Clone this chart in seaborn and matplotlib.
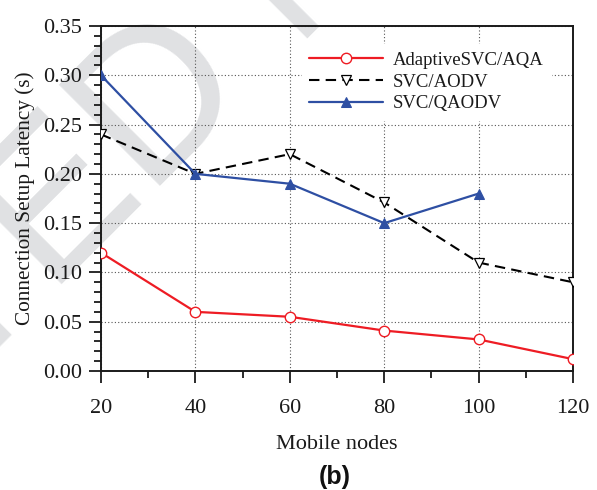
import matplotlib
matplotlib.use("Agg")
import matplotlib.pyplot as plt
import seaborn as sns
import pandas as pd
from matplotlib.ticker import MultipleLocator

# Connection setup latency (s) versus number of mobile nodes
nodes = [20, 40, 60, 80, 100, 120]
adaptive_aqa = [0.120, 0.060, 0.055, 0.041, 0.032, 0.012]
svc_aodv = [0.240, 0.200, 0.220, 0.171, 0.110, 0.090]
svc_qaodv_nodes = [20, 40, 60, 80, 100]
svc_qaodv = [0.300, 0.200, 0.190, 0.150, 0.180]

x_ticks = [20, 40, 60, 80, 100, 120]
y_ticks = [0.00, 0.05, 0.10, 0.15, 0.20, 0.25, 0.30, 0.35]

sns.set_theme(style="white")
plt.rcParams["font.family"] = ["Liberation Serif", "DejaVu Serif"]

fig = plt.figure(figsize=(5.97, 4.90), dpi=100)
fig.patch.set_facecolor("white")

# faint diagonal page watermark, behind everything else
fig.text(-0.9176, -0.823, "ACCEPTED MANUSCRIPT", fontsize=150,
         color="#e0e1e3", family="Liberation Sans", rotation=45,
         rotation_mode="anchor", ha="left", va="baseline", zorder=-10)

ax = fig.add_axes([0.1692, 0.2429, 0.7906, 0.7040])
ax.set_facecolor("none")

df_a = pd.DataFrame({"nodes": nodes, "lat": adaptive_aqa})
df_b = pd.DataFrame({"nodes": nodes, "lat": svc_aodv})
df_c = pd.DataFrame({"nodes": svc_qaodv_nodes, "lat": svc_qaodv})

red = "#ee1c24"
blue = "#2e4fa3"

sns.lineplot(data=df_a, x="nodes", y="lat", ax=ax, color=red, lw=1.6,
             marker="o", markersize=7.5, markerfacecolor="white",
             markeredgecolor=red, markeredgewidth=1.0,
             label="AdaptiveSVC/AQA", zorder=5)
sns.lineplot(data=df_b, x="nodes", y="lat", ax=ax, color="black", lw=1.5,
             linestyle=(0, (5, 3)), marker="v", markersize=7,
             markerfacecolor="white", markeredgecolor="black",
             markeredgewidth=0.9, label="SVC/AODV", zorder=4)
sns.lineplot(data=df_c, x="nodes", y="lat", ax=ax, color=blue, lw=1.6,
             marker="^", markersize=7.5, markerfacecolor=blue,
             markeredgecolor=blue, label="SVC/QAODV", zorder=6)

ax.set_xlim(20, 120)
ax.set_ylim(0, 0.35)
ax.set_xticks(x_ticks)
ax.set_yticks(y_ticks)
ax.set_yticklabels([f"{v:.2f}" for v in y_ticks])
ax.xaxis.set_minor_locator(MultipleLocator(10))
ax.yaxis.set_minor_locator(MultipleLocator(0.01))

ax.grid(True, which="major", linestyle=(0, (1, 2)), color="#555555", lw=0.8)
ax.tick_params(axis="both", which="major", direction="out", length=8.5,
               width=1.3, color="#1a1a1a", labelsize=16, labelcolor="#1a1a1a")
ax.tick_params(axis="both", which="minor", direction="out", length=4.8,
               width=1.3, color="#1a1a1a")
ax.tick_params(axis="x", which="major", pad=12)
ax.tick_params(axis="y", which="major", pad=5)
ax.tick_params(top=False, right=False, which="both")
ax.tick_params(bottom=True, left=True, which="both")

for side in ["left", "bottom", "top", "right"]:
    ax.spines[side].set_visible(True)
    ax.spines[side].set_color("#1a1a1a")
    ax.spines[side].set_linewidth(1.4)

ax.set_xlabel("Mobile nodes", fontsize=16, color="#1a1a1a", labelpad=12)
ax.set_ylabel("Connection Setup Latency (s)", fontsize=15.3, color="#1a1a1a",
              labelpad=6)

leg = ax.legend(loc="upper right", bbox_to_anchor=(0.974, 0.974),
                fontsize=13.5, frameon=True, fancybox=False, framealpha=1.0,
                facecolor="white", edgecolor="white", handlelength=3.95,
                handletextpad=0.53, labelspacing=0.24, borderpad=0.4)
for t in leg.get_texts():
    t.set_color("#1a1a1a")

fig.text(0.561, 0.027, "(b)", fontsize=18, fontweight="bold",
         family="Liberation Sans", ha="center", va="center", color="#111111")

fig.savefig("out.png", dpi=100, facecolor="white")
